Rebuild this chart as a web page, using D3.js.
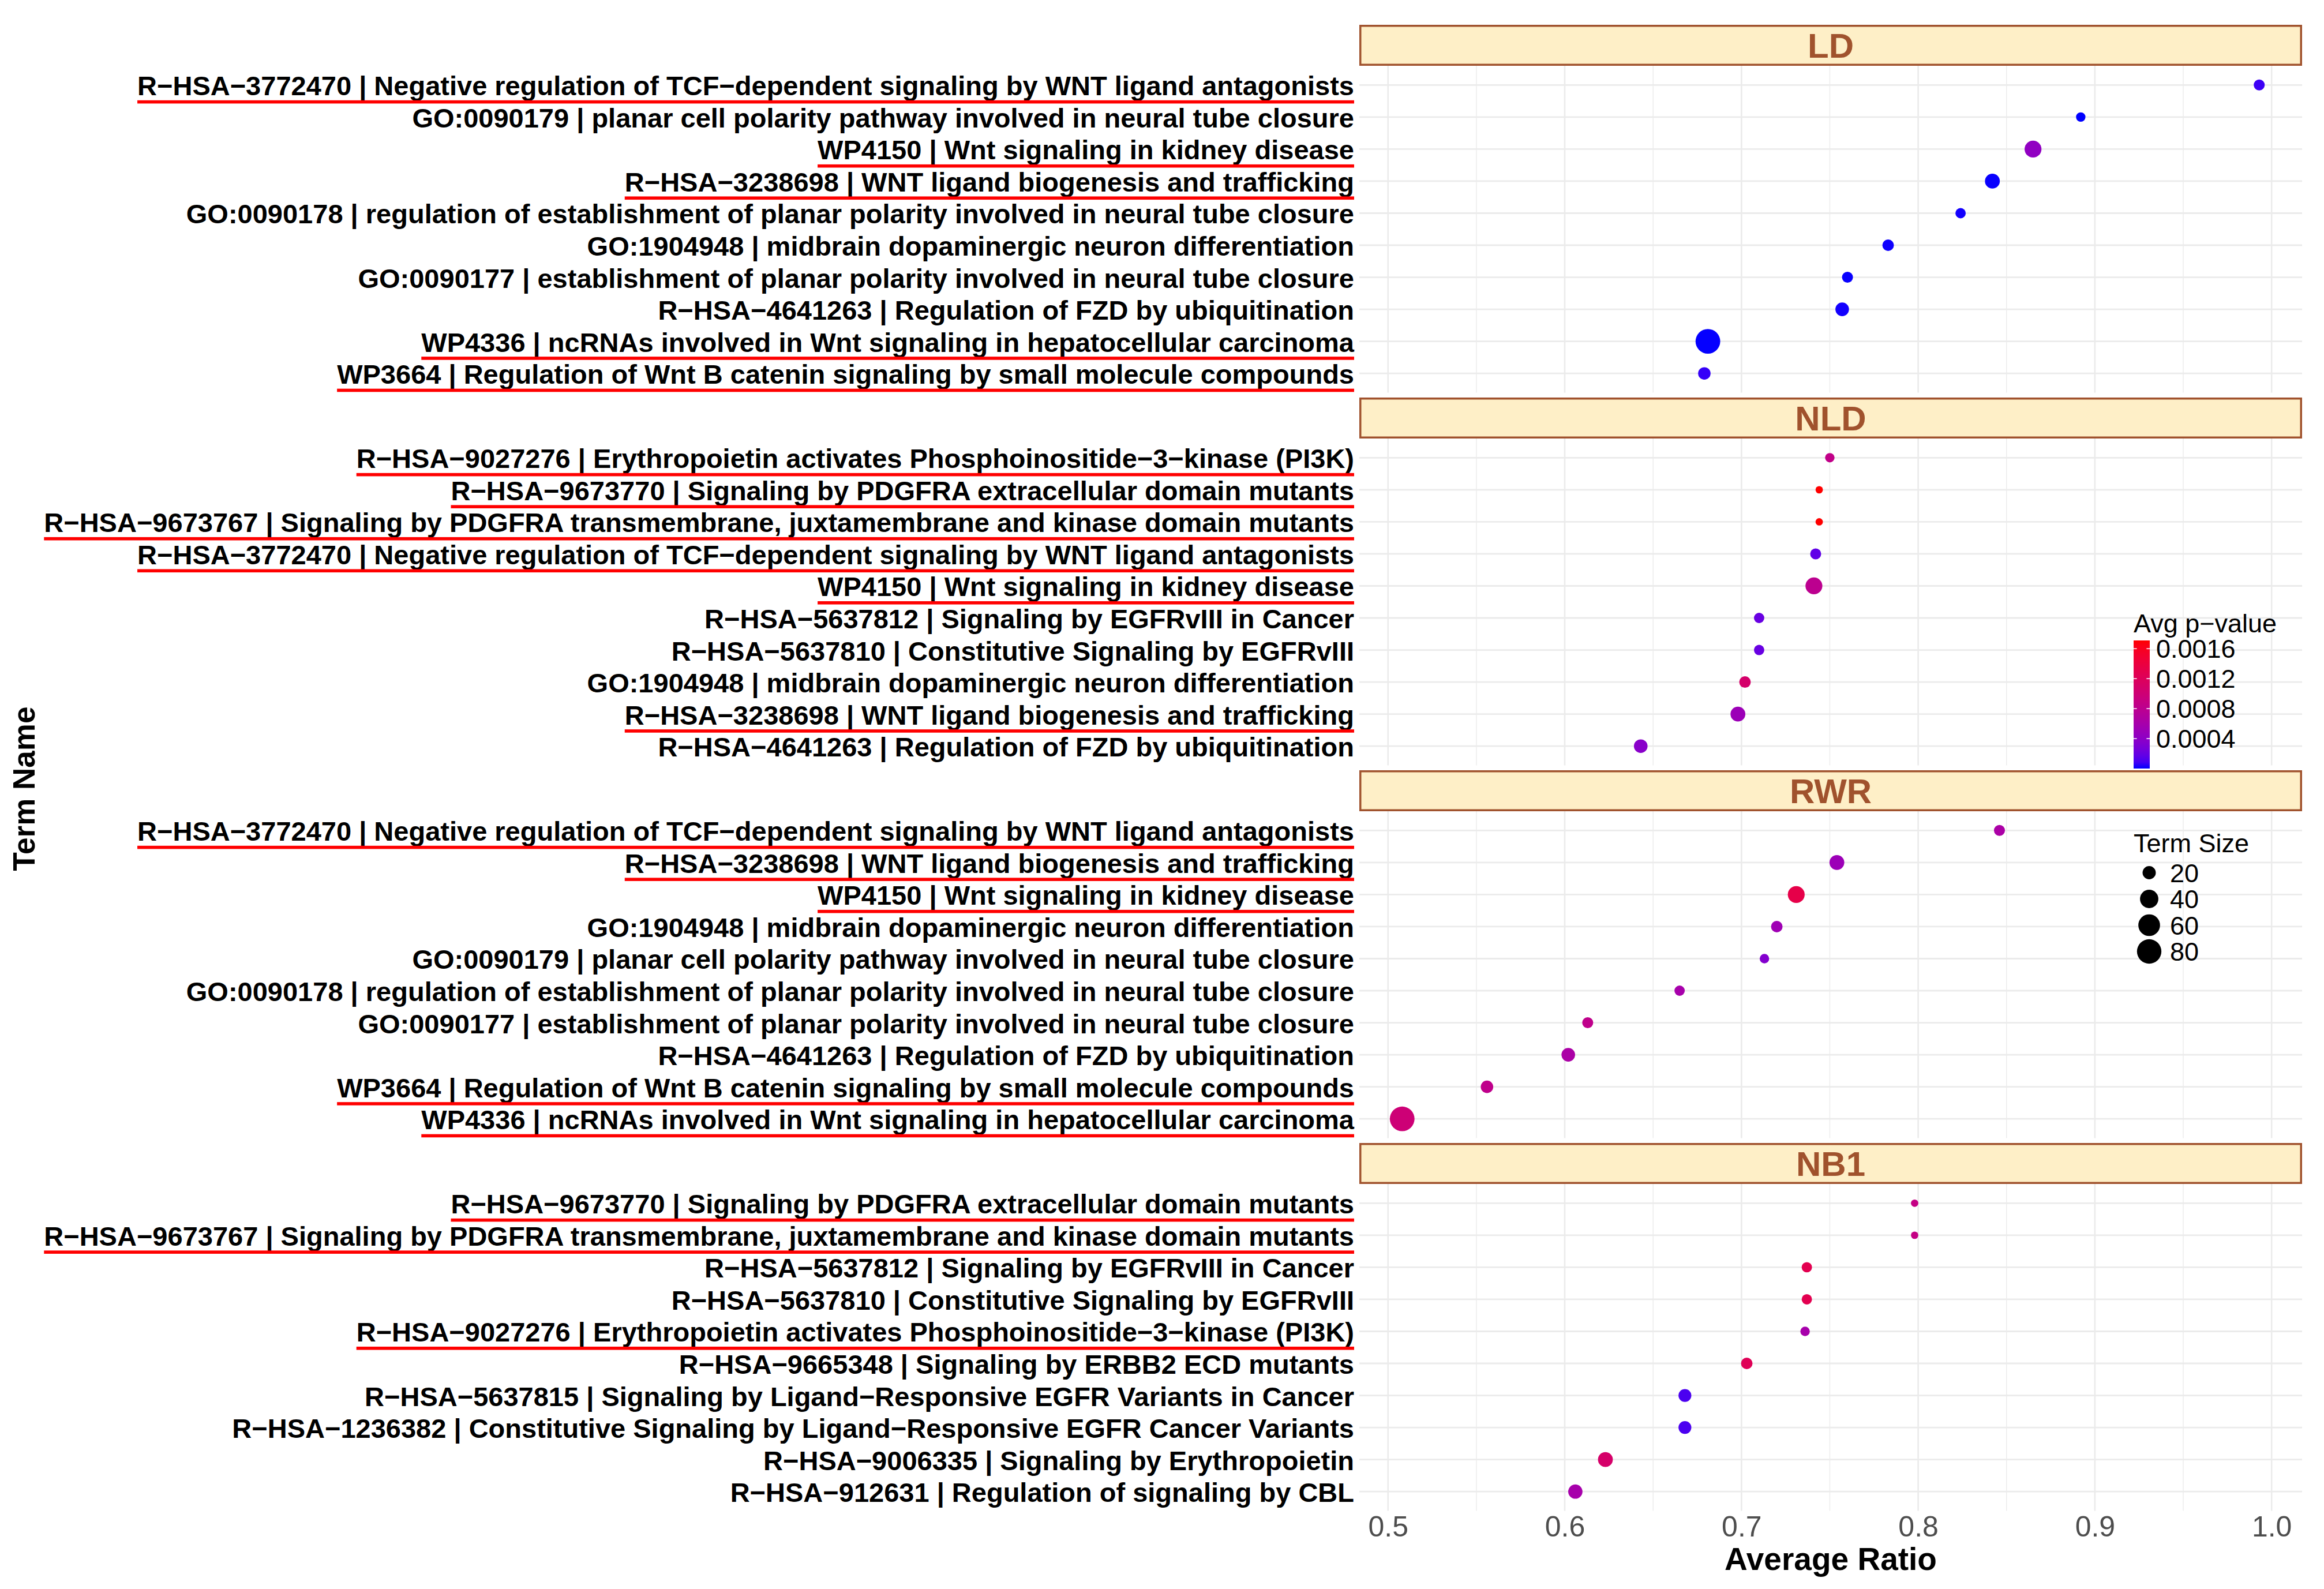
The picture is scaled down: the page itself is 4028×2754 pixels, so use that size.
<!DOCTYPE html>
<html>
<head>
<meta charset="utf-8">
<script src="https://cdn.jsdelivr.net/npm/d3@7"></script>
<style>
  html, body { margin: 0; padding: 0; background: #ffffff; }
  svg { display: block; font-family: "Liberation Sans", Arial, sans-serif; }
</style>
</head>
<body>
<svg id="chart" width="4028" height="2754"></svg>
<script>
// ---------------- DATA ----------------
const methods = ["LD", "NLD", "RWR", "NB1"];

const termIds = ["R-HSA-3772470", "GO:0090179", "WP4150", "R-HSA-3238698", "GO:0090178", "GO:1904948",
  "GO:0090177", "R-HSA-4641263", "WP4336", "WP3664", "R-HSA-9027276", "R-HSA-9673770", "R-HSA-9673767",
  "R-HSA-5637812", "R-HSA-5637810", "R-HSA-9665348", "R-HSA-5637815", "R-HSA-1236382", "R-HSA-9006335", "R-HSA-912631"];
const termDescriptions = ["Negative regulation of TCF−dependent signaling by WNT ligand antagonists",
  "planar cell polarity pathway involved in neural tube closure",
  "Wnt signaling in kidney disease",
  "WNT ligand biogenesis and trafficking",
  "regulation of establishment of planar polarity involved in neural tube closure",
  "midbrain dopaminergic neuron differentiation",
  "establishment of planar polarity involved in neural tube closure",
  "Regulation of FZD by ubiquitination",
  "ncRNAs involved in Wnt signaling in hepatocellular carcinoma",
  "Regulation of Wnt B catenin signaling by small molecule compounds",
  "Erythropoietin activates Phosphoinositide−3−kinase (PI3K)",
  "Signaling by PDGFRA extracellular domain mutants",
  "Signaling by PDGFRA transmembrane, juxtamembrane and kinase domain mutants",
  "Signaling by EGFRvIII in Cancer",
  "Constitutive Signaling by EGFRvIII",
  "Signaling by ERBB2 ECD mutants",
  "Signaling by Ligand−Responsive EGFR Variants in Cancer",
  "Constitutive Signaling by Ligand−Responsive EGFR Cancer Variants",
  "Signaling by Erythropoietin",
  "Regulation of signaling by CBL"];
const termSizes = [15, 13, 33, 25, 14, 16, 15, 21, 82, 18, 13, 12, 12, 14, 14, 16, 19, 19, 25, 23];
const underlinedTerms = ["R-HSA-3772470", "WP4150", "R-HSA-3238698", "WP4336", "WP3664",
  "R-HSA-9027276", "R-HSA-9673770", "R-HSA-9673767"];

// per-method rows, listed top to bottom
const ldTerms  = ["R-HSA-3772470", "GO:0090179", "WP4150", "R-HSA-3238698", "GO:0090178", "GO:1904948", "GO:0090177", "R-HSA-4641263", "WP4336", "WP3664"];
const ldRatio  = [0.993, 0.892, 0.865, 0.842, 0.824, 0.783, 0.760, 0.757, 0.681, 0.679];
const ldPval   = [0.000068, 0.000001, 0.00043, 0.000005, 0.000010, 0.000008, 0.000005, 0.000010, 0.000003, 0.000051];

const nldTerms = ["R-HSA-9027276", "R-HSA-9673770", "R-HSA-9673767", "R-HSA-3772470", "WP4150", "R-HSA-5637812", "R-HSA-5637810", "GO:1904948", "R-HSA-3238698", "R-HSA-4641263"];
const nldRatio = [0.750, 0.744, 0.744, 0.742, 0.741, 0.710, 0.710, 0.702, 0.698, 0.643];
const nldPval  = [0.000855, 0.00171, 0.00171, 0.000171, 0.000804, 0.000205, 0.000205, 0.00108, 0.000513, 0.000376];

const rwrTerms = ["R-HSA-3772470", "R-HSA-3238698", "WP4150", "GO:1904948", "GO:0090179", "GO:0090178", "GO:0090177", "R-HSA-4641263", "WP3664", "WP4336"];
const rwrRatio = [0.846, 0.754, 0.731, 0.720, 0.713, 0.665, 0.613, 0.602, 0.556, 0.508];
const rwrPval  = [0.000633, 0.000513, 0.00133, 0.00053, 0.000342, 0.000599, 0.000838, 0.000633, 0.000838, 0.000992];

const nb1Terms = ["R-HSA-9673770", "R-HSA-9673767", "R-HSA-5637812", "R-HSA-5637810", "R-HSA-9027276", "R-HSA-9665348", "R-HSA-5637815", "R-HSA-1236382", "R-HSA-9006335", "R-HSA-912631"];
const nb1Ratio = [0.798, 0.798, 0.737, 0.737, 0.736, 0.703, 0.668, 0.668, 0.623, 0.606];
const nb1Pval  = [0.000889, 0.000889, 0.00128, 0.00128, 0.000599, 0.00123, 0.000103, 0.000103, 0.00109, 0.000599];

const xTicks = [0.5, 0.6, 0.7, 0.8, 0.9, 1.0];
const colorTicks = [0.0004, 0.0008, 0.0012, 0.0016];
const sizeTicks = [20, 40, 60, 80];

// ---------------- BUILD ----------------
const facetRows = {
  LD:  {terms: ldTerms,  ratio: ldRatio,  pval: ldPval},
  NLD: {terms: nldTerms, ratio: nldRatio, pval: nldPval},
  RWR: {terms: rwrTerms, ratio: rwrRatio, pval: rwrPval},
  NB1: {terms: nb1Terms, ratio: nb1Ratio, pval: nb1Pval}
};
const termIndex = new Map(termIds.map((t, i) => [t, i]));

const allRatio = [].concat(ldRatio, nldRatio, rwrRatio, nb1Ratio);
const allPval = [].concat(ldPval, nldPval, rwrPval, nb1Pval);
const usedSizes = [];
methods.forEach(m => facetRows[m].terms.forEach(t => usedSizes.push(termSizes[termIndex.get(t)])));

const W = 4028, H = 2754;
const panelLeft = 2356, panelRight = 3990;
const stripTop0 = 43, stripH = 71, panelH = 566.5, facetGap = 8.5;
const FONT = '"Liberation Sans", Arial, sans-serif';
const SIENNA = "#A0522D";
const GRID = "#EBEBEB";

const svg = d3.select("#chart");
svg.append("rect").attr("width", W).attr("height", H).attr("fill", "#ffffff");

// x scale with 5% expansion, like ggplot
const [rMin, rMax] = d3.extent(allRatio);
const pad = (rMax - rMin) * 0.05;
const x = d3.scaleLinear().domain([rMin - pad, rMax + pad]).range([panelLeft, panelRight]);

// colour scale (Lab interpolation blue -> red)
const pExtent = d3.extent(allPval);
const color = d3.scaleLinear().domain(pExtent).range(["blue", "red"]).interpolate(d3.interpolateLab);

// size scale: area-like (sqrt of rescaled value), as ggplot scale_size
const sizeExtent = d3.extent(usedSizes);
const sizeRescale = d3.scaleLinear().domain(sizeExtent).range([0, 1]);
const radiusRange = d3.scaleLinear().domain([0, 1]).range([6.4, 21.4]);
const radius = v => radiusRange(Math.sqrt(Math.max(0, sizeRescale(v))));

const minorTicks = d3.range(0.55, 1.0, 0.1).map(v => +v.toFixed(2)).filter(v => v > x.domain()[0] && v < x.domain()[1]);

methods.forEach((m, fi) => {
  const rows = facetRows[m];
  const stripTop = stripTop0 + fi * (stripH + panelH + facetGap);
  const panelTop = stripTop + stripH;
  const panelBottom = panelTop + panelH;
  const g = svg.append("g").attr("class", "facet facet-" + m);

  const y = d3.scalePoint().domain(rows.terms).range([panelTop, panelBottom]).padding(0.6);

  // grid
  g.append("g").selectAll("line").data(minorTicks).join("line")
    .attr("x1", d => x(d)).attr("x2", d => x(d))
    .attr("y1", panelTop).attr("y2", panelBottom)
    .attr("stroke", GRID).attr("stroke-width", 1.4);
  g.append("g").selectAll("line").data(xTicks).join("line")
    .attr("x1", d => x(d)).attr("x2", d => x(d))
    .attr("y1", panelTop).attr("y2", panelBottom)
    .attr("stroke", GRID).attr("stroke-width", 2.6);
  g.append("g").selectAll("line").data(rows.terms).join("line")
    .attr("x1", panelLeft).attr("x2", panelRight)
    .attr("y1", d => y(d)).attr("y2", d => y(d))
    .attr("stroke", GRID).attr("stroke-width", 2.8);

  // strip
  g.append("rect")
    .attr("x", panelLeft + 1.75).attr("y", stripTop + 1.75)
    .attr("width", panelRight - panelLeft - 3.5).attr("height", stripH - 3.5)
    .attr("fill", "#FEEFC7").attr("stroke", SIENNA).attr("stroke-width", 3.5);
  g.append("text")
    .attr("x", (panelLeft + panelRight) / 2).attr("y", stripTop + stripH / 2 + 21)
    .attr("text-anchor", "middle")
    .attr("font-family", FONT).attr("font-weight", "bold").attr("font-size", 60)
    .attr("fill", SIENNA).text(m);

  // y-axis labels with red underline for highlighted terms
  const labels = g.append("g");
  rows.terms.forEach(t => {
    const i = termIndex.get(t);
    const txt = labels.append("text")
      .attr("x", 2347).attr("y", y(t) + 18)
      .attr("text-anchor", "end")
      .attr("font-family", FONT).attr("font-weight", "bold").attr("font-size", 47)
      .attr("fill", "#000000")
      .text(t.replace(/-/g, "−") + " | " + termDescriptions[i]);
    if (underlinedTerms.includes(t)) {
      const w = txt.node().getComputedTextLength();
      labels.append("rect")
        .attr("x", 2347 - w).attr("y", y(t) + 26.5)
        .attr("width", w).attr("height", 5.6)
        .attr("fill", "#FF0000");
    }
  });

  // points
  const pts = rows.terms.map((t, k) => ({term: t, ratio: rows.ratio[k], p: rows.pval[k], size: termSizes[termIndex.get(t)]}));
  g.append("g").selectAll("circle").data(pts).join("circle")
    .attr("cx", d => x(d.ratio)).attr("cy", d => y(d.term))
    .attr("r", d => radius(d.size))
    .attr("fill", d => color(d.p));

  // x axis only under last panel
  if (fi === methods.length - 1) {
    const ax = g.append("g").attr("transform", `translate(0,${panelBottom})`)
      .call(d3.axisBottom(x).tickValues(xTicks).tickFormat(d3.format(".1f")).tickSize(0).tickPadding(9));
    ax.select(".domain").remove();
    ax.selectAll("text").attr("font-family", FONT).attr("font-size", 50).attr("fill", "#4D4D4D");
  }
});

// axis titles
svg.append("text")
  .attr("x", (panelLeft + panelRight) / 2).attr("y", 2721)
  .attr("text-anchor", "middle")
  .attr("font-family", FONT).attr("font-weight", "bold").attr("font-size", 55)
  .attr("fill", "#000").text("Average Ratio");
svg.append("text")
  .attr("transform", "translate(60,1367) rotate(-90)")
  .attr("text-anchor", "middle")
  .attr("font-family", FONT).attr("font-weight", "bold").attr("font-size", 53)
  .attr("fill", "#000").text("Term Name");

// ---------------- LEGENDS ----------------
const legX = 3698, barW = 28, barTop = 1110, barBottom = 1332;
const cbY = d3.scaleLinear().domain(pExtent).range([barBottom, barTop]);
const defs = svg.append("defs");
const grad = defs.append("linearGradient").attr("id", "pgrad")
  .attr("x1", 0).attr("y1", 1).attr("x2", 0).attr("y2", 0);
d3.range(0, 1.0001, 0.05).forEach(s => {
  grad.append("stop").attr("offset", s)
    .attr("stop-color", color(pExtent[0] + s * (pExtent[1] - pExtent[0])));
});
const leg = svg.append("g").attr("class", "legend");
leg.append("text").attr("x", legX).attr("y", 1096)
  .attr("font-family", FONT).attr("font-size", 45).attr("fill", "#000").text("Avg p−value");
leg.append("rect").attr("x", legX).attr("y", barTop).attr("width", barW).attr("height", barBottom - barTop)
  .attr("fill", "url(#pgrad)");
colorTicks.forEach(v => {
  const yy = cbY(v);
  leg.append("line").attr("x1", legX).attr("x2", legX + 5.6).attr("y1", yy).attr("y2", yy)
    .attr("stroke", "#ffffff").attr("stroke-width", 1.5);
  leg.append("line").attr("x1", legX + barW - 5.6).attr("x2", legX + barW).attr("y1", yy).attr("y2", yy)
    .attr("stroke", "#ffffff").attr("stroke-width", 1.5);
  leg.append("text").attr("x", 3737).attr("y", yy + 16)
    .attr("font-family", FONT).attr("font-size", 45).attr("fill", "#000")
    .text(d3.format(".4f")(v));
});

leg.append("text").attr("x", legX).attr("y", 1477)
  .attr("font-family", FONT).attr("font-size", 45).attr("fill", "#000").text("Term Size");
const sizeLegY = d3.scalePoint().domain(sizeTicks).range([1512.5, 1649]);
sizeTicks.forEach(v => {
  leg.append("circle").attr("cx", 3725).attr("cy", sizeLegY(v)).attr("r", radius(v)).attr("fill", "#000");
  leg.append("text").attr("x", 3761).attr("y", sizeLegY(v) + 16)
    .attr("font-family", FONT).attr("font-size", 45).attr("fill", "#000").text(v);
});
</script>
</body>
</html>
